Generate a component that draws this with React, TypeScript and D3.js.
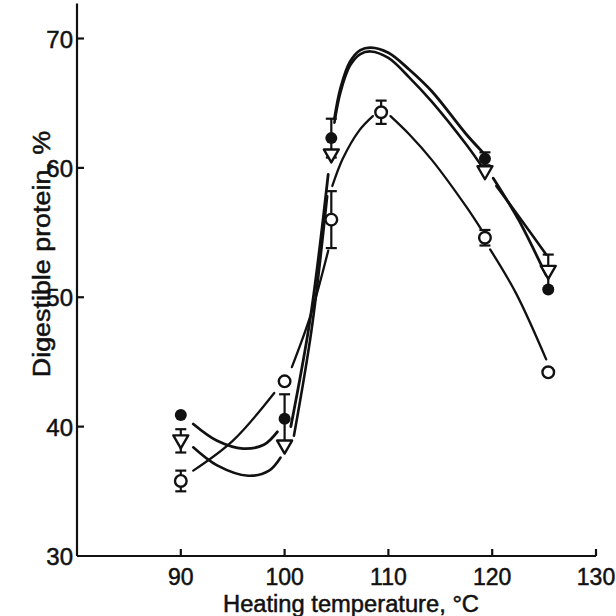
import React from 'react';
import * as d3 from 'd3';

// heating temperatures (°C) where samples were taken
const temps = [90, 100, 104.5, 109.3, 119.3, 125.4];

// digestible protein (%) per marker series, null = no point
const filledVals = [40.9, 40.6, 62.3, null, 60.7, 50.6];
const filledErr = [0, 1.9, 1.5, 0, 0.5, 0];
const triVals = [38.9, 38.5, 61.0, null, 59.7, 52.0];
const triErr = [0.9, 0, 0, 0, 0, 1.3];
const openVals = [35.8, 43.5, 56.0, 64.3, 54.6, 44.2];
const openErr = [0.8, 0, 2.2, 0.9, 0.6, 0];

// fitted curves, drawn in pieces (gaps at the markers)
const filledCurve = [
  [[91.2, 40.2], [93.5, 38.9], [96, 38.3], [98, 38.6], [99.3, 39.6]],
  [[100.6, 40.0], [102.5, 48.5], [104.2, 59.5]],
  [[104.8, 63.8], [105.4, 66.2], [106.3, 68.2], [107.3, 69.1], [108.3, 69.3], [110, 68.9], [112, 67.6], [114.2, 65.9], [117.5, 62.6], [119.1, 61.2]],
  [[120.1, 59.2], [122.6, 55.9], [125.2, 51.7]],
];
const triCurve = [
  [[91.2, 38.4], [93.5, 37.0], [96.5, 36.2], [98.5, 36.6], [99.6, 37.6]],
  [[100.9, 39.3], [102.6, 47.5], [104.1, 57.8]],
  [[104.8, 63.5], [105.4, 65.9], [106.3, 67.9], [107.3, 68.8], [108.3, 69.0], [110, 68.5], [112, 67.0], [114.2, 65.1], [117.5, 61.8], [119.1, 60.0]],
  [[120.4, 58.6], [122.6, 56.2], [125.2, 53.3]],
];
const openCurve = [
  [[91.2, 36.6], [95, 38.9], [99, 42.6]],
  [[100.7, 44.6], [102.5, 48.6], [104.2, 53.6]],
  [[104.6, 58.6], [105.6, 60.7], [107.2, 62.9], [108.5, 64.0]],
  [[110.2, 64.0], [112, 62.6], [114.2, 60.6], [117.5, 57.0], [118.9, 55.3]],
  [[119.8, 53.7], [122.3, 50.3], [125.2, 45.2]],
];

const xTicks = [90, 100, 110, 120, 130];
const yTicks = [30, 40, 50, 60, 70];
const xTitle = 'Heating temperature, °C';
const yTitle = 'Digestible protein, %';

const W = 616;
const H = 616;
const font = '"Liberation Sans", Arial, sans-serif';

export default function App() {
  const x = d3.scaleLinear().domain([80, 130]).range([77, 596]);
  const y = d3.scaleLinear().domain([30, 70]).range([556, 38.5]);
  const yTop = 72.7;

  const line = d3
    .line<number[]>()
    .x(d => x(d[0]))
    .y(d => y(d[1]))
    .curve(d3.curveCatmullRom.alpha(0.5));

  const errBar = (vals: (number | null)[], errs: number[], key: string) =>
    vals.map((v, i) => {
      if (v == null || !errs[i]) return null;
      const cx = x(temps[i]);
      const y0 = y(v - errs[i]);
      const y1 = y(v + errs[i]);
      return (
        <g key={key + i} stroke="#111" strokeWidth={2.2}>
          <line x1={cx} x2={cx} y1={y0} y2={y1} />
          <line x1={cx - 5.5} x2={cx + 5.5} y1={y0} y2={y0} />
          <line x1={cx - 5.5} x2={cx + 5.5} y1={y1} y2={y1} />
        </g>
      );
    });

  const curves = (segs: number[][][], w: number, key: string) =>
    segs.map((s, i) => (
      <path key={key + i} d={line(s) || ''} fill="none" stroke="#111" strokeWidth={w} strokeLinecap="round" />
    ));

  return (
    <svg width={W} height={H} style={{ position: 'fixed', left: 0, top: 0, background: '#fff' }}>
      <rect width={W} height={H} fill="#fff" />

      {/* axes */}
      <g stroke="#111" strokeWidth={2.2} fill="none">
        <line x1={x(80)} x2={x(80)} y1={y(yTop)} y2={y(30)} />
        <line x1={x(80)} x2={x(130)} y1={y(30)} y2={y(30)} />
        {yTicks.filter(t => t > 30).map(t => (
          <line key={'yt' + t} x1={x(80)} x2={x(80) + 7} y1={y(t)} y2={y(t)} />
        ))}
        {xTicks.map(t => (
          <line key={'xt' + t} x1={x(t)} x2={x(t)} y1={y(30)} y2={y(30) - 7} />
        ))}
      </g>
      <g fontFamily={font} fontSize={24} fill="#111" stroke="#111" strokeWidth={0.5}>
        {yTicks.map(t => (
          <text key={'yl' + t} x={x(80) - 4} y={y(t) + 9} textAnchor="end">{t}</text>
        ))}
        {xTicks.map(t => (
          <text key={'xl' + t} x={x(t)} y={585} textAnchor="middle" fontSize={23}>{t}</text>
        ))}
        <text x={351} y={612} textAnchor="middle" fontSize={23} textLength={256} lengthAdjust="spacingAndGlyphs">{xTitle}</text>
        <text transform="translate(50,254) rotate(-90) scale(1.12,1)" textAnchor="middle" fontSize={24}>{yTitle}</text>
      </g>

      {/* fitted curves */}
      {curves(filledCurve, 2.8, 'fc')}
      {curves(triCurve, 2.6, 'tc')}
      {curves(openCurve, 2.3, 'oc')}

      {/* error bars */}
      {errBar(filledVals, filledErr, 'fe')}
      {errBar(triVals, triErr, 'te')}
      {errBar(openVals, openErr, 'oe')}

      {/* markers */}
      {openVals.map((v, i) =>
        v == null ? null : (
          <circle key={'o' + i} cx={x(temps[i])} cy={y(v)} r={5.8} fill="#fff" stroke="#111" strokeWidth={2.4} />
        )
      )}
      {triVals.map((v, i) =>
        v == null ? null : (
          <path
            key={'t' + i}
            transform={`translate(${x(temps[i])},${y(v)})`}
            d="M-7.5,-5.5L7.5,-5.5L0,7.5Z"
            fill="#fff"
            stroke="#111"
            strokeWidth={2.4}
            strokeLinejoin="round"
          />
        )
      )}
      {filledVals.map((v, i) =>
        v == null ? null : (
          <circle key={'f' + i} cx={x(temps[i])} cy={y(v)} r={6} fill="#111" />
        )
      )}
    </svg>
  );
}
